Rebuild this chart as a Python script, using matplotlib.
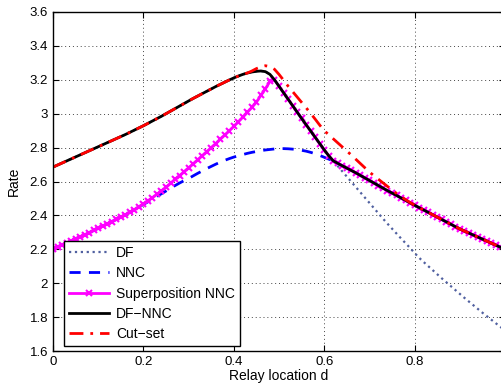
import numpy as np
import matplotlib
matplotlib.use('Agg')
import matplotlib.pyplot as plt
from matplotlib.ticker import FormatStrFormatter

plt.rcParams['font.family'] = ['Liberation Sans', 'DejaVu Sans']

# relay location, step 0.01 from 0 to 1
d = np.round(np.arange(0, 1.0001, 0.01), 2)

# common rising part (DF = DF-NNC = cut-set), d = 0.00 .. 0.43
rise = [2.685, 2.697, 2.709, 2.721, 2.733, 2.745, 2.757, 2.769, 2.781, 2.793,
        2.805, 2.817, 2.829, 2.841, 2.853, 2.865, 2.877, 2.890, 2.903, 2.916,
        2.929, 2.943, 2.957, 2.971, 2.985, 3.000, 3.015, 3.030, 3.045, 3.060,
        3.075, 3.090, 3.104, 3.118, 3.132, 3.146, 3.160, 3.173, 3.186, 3.199,
        3.211, 3.222, 3.232, 3.240]

# DF-NNC, d = 0.44 .. 1.00
dfnnc_tail = [3.246, 3.250, 3.252, 3.248, 3.232, 3.200, 3.162, 3.124, 3.086, 3.048,
              3.010, 2.972, 2.935, 2.898, 2.861, 2.824, 2.787, 2.752, 2.722, 2.707,
              2.693, 2.679, 2.665, 2.651, 2.636, 2.621, 2.606, 2.591, 2.576, 2.561,
              2.546, 2.532, 2.518, 2.503, 2.489, 2.474, 2.460, 2.446, 2.432, 2.418,
              2.404, 2.390, 2.376, 2.362, 2.348, 2.334, 2.320, 2.308, 2.296, 2.284,
              2.272, 2.260, 2.248, 2.236, 2.224, 2.212, 2.200]
df_nnc = rise + dfnnc_tail

# cut-set bound, d = 0.44 .. 0.79, then equal to DF-NNC
cut_mid = [3.252, 3.266, 3.277, 3.283, 3.278, 3.262, 3.232, 3.198, 3.163, 3.131,
           3.099, 3.067, 3.035, 3.002, 2.968, 2.933, 2.900, 2.876, 2.852, 2.828,
           2.804, 2.780, 2.756, 2.731, 2.706, 2.681, 2.656, 2.634, 2.613, 2.592,
           2.571, 2.550, 2.530, 2.511, 2.493, 2.476]
cut_set = rise + cut_mid + df_nnc[80:]

# DF, d = 0.63 .. 1.00 (before that it lies on DF-NNC)
df_tail = [2.691, 2.660, 2.629, 2.598, 2.567, 2.536, 2.505, 2.474, 2.443, 2.412,
           2.381, 2.351, 2.322, 2.293, 2.264, 2.236, 2.208, 2.178, 2.150, 2.125,
           2.101, 2.077, 2.053, 2.029, 2.006, 1.983, 1.960, 1.937, 1.914, 1.892,
           1.870, 1.848, 1.826, 1.805, 1.784, 1.763, 1.742, 1.721]
df = df_nnc[:63] + df_tail

# superposition NNC, d = 0.00 .. 0.48, then on DF-NNC
low_start = [2.202, 2.214, 2.226, 2.238, 2.250, 2.262, 2.274, 2.286, 2.298, 2.311,
             2.324, 2.337, 2.350, 2.363, 2.376, 2.389, 2.403, 2.418]
sup_mid = [2.434, 2.451, 2.468, 2.486, 2.505, 2.524, 2.544, 2.565, 2.589, 2.612,
           2.635, 2.658, 2.681, 2.704, 2.728, 2.752, 2.776, 2.800, 2.824, 2.849,
           2.874, 2.899, 2.925, 2.952, 2.980, 3.008, 3.037, 3.068, 3.108, 3.148, 3.190]
sup_nnc = low_start + sup_mid + df_nnc[49:]

# NNC, d = 0.18 .. 0.62, then on DF-NNC
nnc_mid = [2.433, 2.449, 2.465, 2.480, 2.496, 2.512, 2.528, 2.544, 2.561, 2.576,
           2.591, 2.605, 2.618, 2.633, 2.648, 2.662, 2.676, 2.689, 2.702, 2.714,
           2.725, 2.735, 2.744, 2.752, 2.759, 2.766, 2.772, 2.777, 2.782, 2.786,
           2.789, 2.792, 2.794, 2.794, 2.793, 2.791, 2.788, 2.784, 2.779, 2.772,
           2.764, 2.754, 2.743, 2.732]
nnc = low_start + nnc_mid + df_nnc[62:]

x_ticks = [0, 0.2, 0.4, 0.6, 0.8]

fig = plt.figure(figsize=(5.01, 3.87), dpi=100)
ax = fig.add_axes([53 / 501, 36 / 387, 452 / 501, 339 / 387])

ax.plot(d, df, linestyle=':', color='#5060a0', linewidth=1.6, label='DF')
ax.plot(d, nnc, linestyle='--', color='#0000ff', linewidth=2, dashes=(4, 3), label='NNC')
ax.plot(d, sup_nnc, linestyle='-', color='#ff00ff', linewidth=2, marker='x',
        markersize=4, markeredgewidth=1.5, label='Superposition NNC')
ax.plot(d, df_nnc, linestyle='-', color='black', linewidth=2, label='DF\u2212NNC')
ax.plot(d, cut_set, linestyle='-.', color='#ff0000', linewidth=2,
        dashes=(5, 2.5, 1, 2.5), label='Cut\u2212set')

ax.set_xlim(0, 1)
ax.set_ylim(1.6, 3.6)
ax.set_xticks(x_ticks)
ax.set_yticks(np.round(np.arange(1.6, 3.61, 0.2), 1))
ax.yaxis.set_major_formatter(FormatStrFormatter('%g'))
ax.xaxis.set_major_formatter(FormatStrFormatter('%g'))
ax.tick_params(direction='in', labelsize=9.5, length=4, top=True, right=True)
ax.grid(True, linestyle=(0, (1, 3)), color='#444444', linewidth=0.7)
for s in ax.spines.values():
    s.set_linewidth(1)

ax.set_xlabel('Relay location d', fontsize=10, labelpad=1)
ax.set_ylabel('Rate', fontsize=10, labelpad=6)

leg = ax.legend(loc='lower left', bbox_to_anchor=(0.024, 0.015), borderaxespad=0,
                fontsize=10, fancybox=False, framealpha=1, edgecolor='black',
                handlelength=2.9, labelspacing=0.45, borderpad=0.35, handletextpad=0.5)
leg.get_frame().set_linewidth(1)

fig.savefig('out.png', dpi=100)
